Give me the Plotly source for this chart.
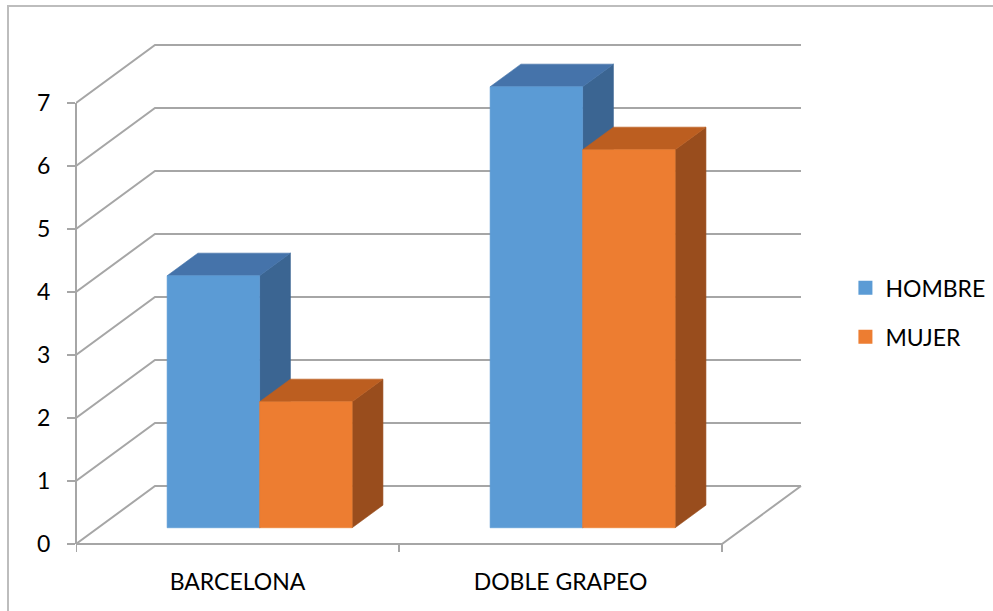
import plotly.graph_objects as go

# ---- data ----
categories = ["BARCELONA", "DOBLE GRAPEO"]
series_names = ["HOMBRE", "MUJER"]
hombre = [4, 7]
mujer = [2, 6]
y_ticks = [0, 1, 2, 3, 4, 5, 6, 7]

# ---- styles / geometry ----
front_colors = ["#5B9BD5", "#ED7D31"]
top_colors = ["#4573AA", "#BC5E20"]
side_colors = ["#3B6592", "#994D1D"]
grid_color = "#A6A6A6"
FONT = "Lato"

PX_X = 323.0   # pixels per category unit
PX_Y = 63.0    # pixels per value unit
DX = 79 / PX_X   # depth offset of back wall (x, data units)
DY = 58 / PX_Y   # depth offset of back wall (y, data units)
F0 = 0.28        # bar front position in depth fraction
DEPTH = 0.39     # bar depth fraction
W = 0.2864       # bar width (category units)

W_FIG, H_FIG = 993, 611
L, R, T, B = 76, 187, 43, 45
X0PX, Y0PX = 76, 544
x_range = [-0.5, -0.5 + (W_FIG - L - R) / PX_X]
y_range = [-(H_FIG - B - Y0PX) / PX_Y, (Y0PX - T) / PX_Y]

n = len(categories)
xl, xr = -0.5, n - 0.5

fig = go.Figure()

# gridlines: left wall diagonals + back wall horizontals
gx, gy = [], []
for v in y_ticks:
    gx += [xl, xl + DX, xr + DX, None]
    gy += [v, v + DY, v + DY, None]
# floor front edge and right edge
gx += [xl, xr, xr + DX, None]
gy += [0, 0, DY, None]
fig.add_trace(go.Scatter(x=gx, y=gy, mode="lines", line=dict(color=grid_color, width=2),
                         showlegend=False, hoverinfo="skip"))

# category tick marks under the front floor edge
tx, ty = [], []
for i in range(n + 1):
    tx += [xl + i, xl + i, None]
    ty += [0, -8 / PX_Y, None]
fig.add_trace(go.Scatter(x=tx, y=ty, mode="lines", line=dict(color=grid_color, width=2),
                         showlegend=False, hoverinfo="skip"))

values = [hombre, mujer]
for s, vals in enumerate(values):
    fx, fy, sx, sy, qx, qy = [], [], [], [], [], []
    for c, v in enumerate(vals):
        x0 = c - W + s * W + F0 * DX
        x1 = x0 + W
        b = F0 * DY
        t = b + v
        ddx, ddy = DEPTH * DX, DEPTH * DY
        fx += [x0, x1, x1, x0, x0, None]
        fy += [b, b, t, t, b, None]
        qx += [x0, x1, x1 + ddx, x0 + ddx, x0, None]
        qy += [t, t, t + ddy, t + ddy, t, None]
        sx += [x1, x1 + ddx, x1 + ddx, x1, x1, None]
        sy += [b, b + ddy, t + ddy, t, b, None]
    for xs, ys, col in [(sx, sy, side_colors[s]), (qx, qy, top_colors[s]), (fx, fy, front_colors[s])]:
        fig.add_trace(go.Scatter(x=xs, y=ys, mode="lines", fill="toself", fillcolor=col,
                                 line=dict(color=col, width=0.6), showlegend=False,
                                 hoverinfo="skip"))

# legend entries
for s, name in enumerate(series_names):
    fig.add_trace(go.Scatter(x=[None], y=[None], mode="markers", name=name,
                             legendgroup=name,
                             marker=dict(symbol="square", size=14, color=front_colors[s])))

fig.update_layout(
    width=W_FIG, height=H_FIG,
    margin=dict(l=L, r=R, t=T, b=B, pad=0, autoexpand=False),
    paper_bgcolor="white", plot_bgcolor="white",
    font=dict(family=FONT, size=23, color="#000000"),
    showlegend=True,
    legend=dict(x=1.054, y=0.485, xanchor="left", yanchor="middle",
                traceorder="grouped", tracegroupgap=16,
                font=dict(family=FONT, size=23, color="#000000"),
                itemclick=False),
    xaxis=dict(range=x_range, showgrid=False, zeroline=False, showline=False,
               tickvals=list(range(n)), ticktext=categories, ticks="",
               ticklabelstandoff=0, fixedrange=True, automargin=False),
    yaxis=dict(range=y_range, showgrid=False, zeroline=False, showline=False,
               tickvals=y_ticks, ticks="outside", ticklen=8, tickwidth=2,
               tickcolor=grid_color, ticklabelstandoff=12, fixedrange=True,
               automargin=False),
    shapes=[
        # y axis line (front plane)
        dict(type="line", xref="paper", yref="y", x0=0, x1=0, y0=0, y1=max(y_ticks),
             line=dict(color=grid_color, width=2), layer="above"),
        # outer chart border
        dict(type="rect", xref="paper", yref="paper",
             x0=(8 - L) / (W_FIG - L - R), x1=1.4,
             y0=-0.3, y1=(H_FIG - B - 6) / (H_FIG - T - B),
             line=dict(color="#BDBDBD", width=2), layer="below"),
    ],
)

fig.write_html("out.html")
